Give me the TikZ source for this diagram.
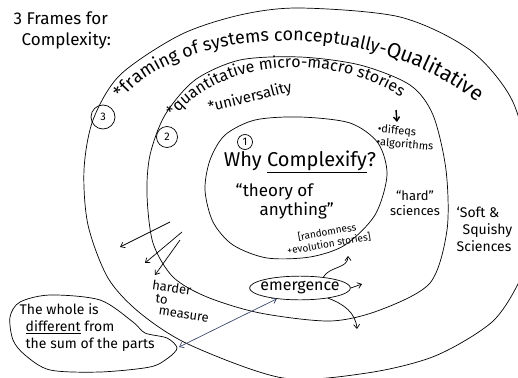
\documentclass[tikz,border=0pt]{standalone}
\usepackage{xcolor}
\usepackage{fontspec}
\setmainfont{Fira Sans}
\usetikzlibrary{shapes.geometric,decorations.text,arrows.meta}
\definecolor{linkblue}{HTML}{3B4A6B}

\begin{document}
\begin{tikzpicture}[x=1pt,y=-1pt,line width=0.7pt,>={Straight Barb[length=4pt,width=6pt]},
  num/.style={circle,draw,inner sep=0pt,font=\fontsize{11}{12}\selectfont},
  hand/.style={font=\fontsize{#1}{#1}\selectfont}]
  \useasboundingbox (0,0) rectangle (518,377);
  \clip (0,0) rectangle (518,377);

  \draw plot[smooth cycle] coordinates {(300,8) (400,17) (470,50) (512,100) (530,170)
    (530,245) (520,280) (492,322) (435,356) (367,373) (283,378) (190,345) (140,313)
    (108,278) (88,225) (84,170) (93,120) (120,75) (180,35) (240,15)};
  \draw plot[smooth cycle] coordinates {(147,195) (153,243) (173,277) (207,297) (260,313)
    (330,321) (380,310) (430,283) (447,230) (446,170) (433,115) (410,85) (360,65)
    (300,57) (240,60) (195,80) (165,115) (150,155)};
  \draw plot[smooth cycle] coordinates {(205,190) (213,222) (233,245) (267,258) (310,257)
    (345,245) (375,215) (387,175) (378,143) (350,123) (300,117) (255,120) (225,135)
    (210,160)};

  \node[anchor=north west,align=left,font=\fontsize{17}{21}\selectfont] (title) at (10,8)
    {3 Frames for\\\hspace*{8pt}Complexity:};

  \node[num,minimum size=24pt] (three) at (103,117) {3};
  \node[num,minimum size=21pt] (two) at (167,137) {2};
  \node[num,minimum size=15pt] (one) at (245,142) {1};

  \path[decorate,decoration={text along path,text align=left,
    text={|\fontsize{18}{18}\selectfont|*framing of systems conceptually-|\fontsize{21}{21}\selectfont|Qualitative}}]
    (122,100) .. controls (175,28) and (390,5) .. (505,128);
  \path[decorate,decoration={text along path,text align=left,
    text={|\fontsize{16}{16}\selectfont|*quantitative micro-macro stories}}]
    (174,118) .. controls (225,52) and (365,45) .. (440,130);
  \node[hand=15,rotate=14] (univ) at (250,98) {*universality};

  \coordinate (S1) at (396,110);
  \coordinate (S2) at (397,122);
  \draw[->,line width=1.4pt] (S1) -- (S2);
  \node[anchor=north west,align=left,rotate=-5,font=\fontsize{11}{13}\selectfont] (tools) at (375,120)
    {\textbullet diffeqs\\\textbullet algorithms};

  \node[hand=20] (why) at (300,162) {Why \underline{Complexify}?};
  \node[anchor=north west,align=left,font=\fontsize{17}{19}\selectfont] (theory) at (232,180)
    {``theory of\\\hspace*{24pt}anything''};
  \node[align=center,rotate=10,font=\fontsize{10}{12}\selectfont] (random) at (328,238)
    {[randomness\\+evolution stories]};

  \node[align=center,font=\fontsize{13}{15}\selectfont] (hard) at (415,203) {``hard''\\sciences};
  \node[anchor=north west,align=left,font=\fontsize{14}{17}\selectfont] (soft) at (453,203)
    {`Soft \&\\\hspace*{6pt}Squishy\\Sciences};

  \coordinate (A1) at (170,222);
  \coordinate (B1) at (120,247);
  \coordinate (A2) at (182,232);
  \coordinate (B2) at (145,263);
  \coordinate (A3) at (180,240);
  \coordinate (B3) at (155,275);
  \draw[->] (A1) -- (B1);
  \draw[->] (A2) -- (B2);
  \draw[->] (A3) -- (B3);

  \node[anchor=north west,align=left,rotate=-8,font=\fontsize{13}{12}\selectfont] (harder) at (150,276)
    {harder\\\hspace*{5pt}to\\\hspace*{10pt}measure};

  \draw plot[smooth cycle] coordinates {(10,317) (20,302) (50,295) (100,300) (133,322)
    (145,333) (167,338) (177,348) (168,358) (150,367) (100,372) (50,370) (25,355) (13,340)};
  \node[anchor=north west,align=left,font=\fontsize{14}{17}\selectfont] (whole) at (16,300)
    {The whole is\\\hspace*{6pt}\underline{different} from\\\hspace*{6pt}the sum of the parts};
  \coordinate (parts) at (179,347);

  \node[ellipse,draw,inner xsep=-4pt,inner ysep=2pt,hand=16] (emg) at (300,288) {emergence};
  \draw[<->,linkblue] (parts) -- (emg.205);

  \coordinate (up) at (348,256);
  \coordinate (right) at (362,284);
  \coordinate (down) at (357,329);
  \draw[->] (emg.25) to[out=60,in=-90] (up);
  \draw[->] (emg.east) -- (right);
  \draw[->] (emg.-20) to[out=-20,in=95] (down);
\end{tikzpicture}
\end{document}
